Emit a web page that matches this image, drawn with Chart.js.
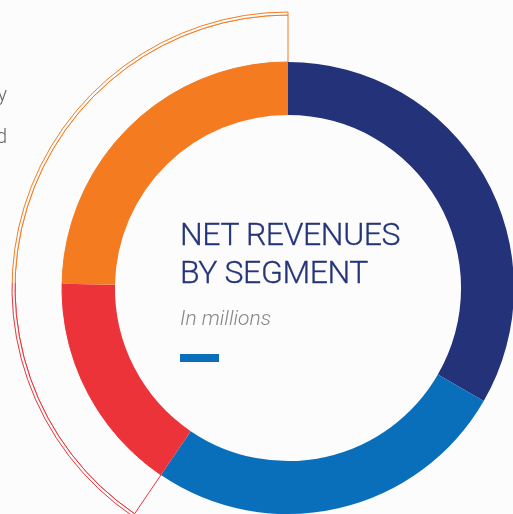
<!DOCTYPE html>
<html>
<head>
<meta charset="utf-8">
<script src="https://cdn.jsdelivr.net/npm/chart.js@4.4.1/dist/chart.umd.min.js"></script>
<style>
    html, body { margin: 0; padding: 0; background: #fcfcfc; width: 513px; height: 514px; overflow: hidden; }
    #wrap { position: absolute; left: 0; top: 0; width: 576px; height: 576px; }
    .side { position: absolute; left: -200px; width: 207px; text-align: right; font: 300 20px Roboto, sans-serif; color: #666; }
    .title { position: absolute; left: 180px; top: 215px; font: 300 32px/38px Roboto, sans-serif; letter-spacing: -0.4px; color: #263478; white-space: nowrap; -webkit-text-stroke: 0.3px #263478; }
    .sub { position: absolute; left: 180px; top: 308px; font: italic 300 21px/21px Roboto, sans-serif; color: #858585; white-space: nowrap; }
    .bar { position: absolute; left: 180px; top: 354px; width: 39px; height: 8px; background: #0a6fba; }
</style>
</head>
<body>
<div id="wrap"><canvas id="segmentChart" width="576" height="576"></canvas></div>
<div class="side" style="top:82px">y</div>
<div class="side" style="top:124px">d</div>
<div class="title">NET REVENUES<br>BY SEGMENT</div>
<div class="sub">In millions</div>
<div class="bar"></div>
<script>
    // net revenues by segment (share of the circle)
    const segments = ['Segment 1', 'Segment 2', 'Segment 3', 'Segment 4'];
    const revenues = [1200, 942, 569, 889];
    const segmentColors = ['#233279', '#0a6fba', '#ec3339', '#f47b20'];

    // outlined arc around the last two segments
    const rest = revenues[0] + revenues[1];
    const highlighted = revenues[2] + revenues[3];

    const ctx = document.getElementById('segmentChart').getContext('2d');

    function outlineColor(context) {
        if (context.dataIndex === 0) return 'rgba(0,0,0,0)';
        const g = context.chart.ctx.createLinearGradient(0, 0, 0, 576);
        g.addColorStop(0, '#f47b20');
        g.addColorStop(283 / 576, '#f47b20');
        g.addColorStop(283 / 576, '#ec3339');
        g.addColorStop(1, '#ec3339');
        return g;
    }

    new Chart(ctx, {
        type: 'doughnut',
        data: {
            labels: segments,
            datasets: [{
                data: [rest, highlighted],
                weight: 3,
                backgroundColor: ['rgba(0,0,0,0)', '#fcfcfc'],
                borderColor: outlineColor,
                borderWidth: 1
            }, {
                data: [rest, highlighted],
                weight: 47,
                backgroundColor: 'rgba(0,0,0,0)',
                borderColor: outlineColor,
                borderWidth: 1
            }, {
                data: revenues,
                weight: 53,
                backgroundColor: segmentColors,
                borderWidth: 0
            }]
        },
        options: {
            responsive: false,
            animation: false,
            events: [],
            radius: 276,
            cutout: '62.7%',
            layout: { padding: 12 },
            plugins: {
                legend: { display: false },
                tooltip: { enabled: false }
            }
        }
    });
</script>
</body>
</html>
